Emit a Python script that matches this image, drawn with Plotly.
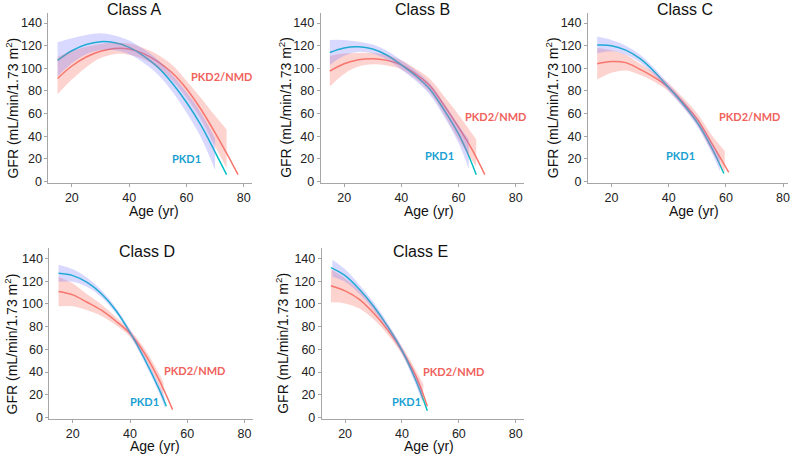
import plotly.graph_objects as go

CLASSES = ["Class A", "Class B", "Class C", "Class D", "Class E"]
SERIES = ["PKD1", "PKD2/NMD"]
Y_TICKS = [0, 20, 40, 60, 80, 100, 120, 140]
X_TICKS = [20, 40, 60, 80]

# ---- Class A ----
A_PKD1_AGE = [15, 20, 25, 30, 35, 40, 45, 50, 55, 60, 65, 70, 74]
A_PKD1_GFR = [107, 115.5, 121, 123.5, 122.5, 118.5, 111, 101, 87, 70, 50, 26, 6]
A_PKD1_BAND_AGE = [15, 20, 25, 30, 35, 40, 45, 50, 55, 60, 65, 70]
A_PKD1_UPPER = [123, 126.5, 129.5, 131, 129, 124.5, 117, 107.5, 94.5, 79, 61, 38]
A_PKD1_LOWER = [93, 104.5, 112.5, 116, 116, 112.5, 105, 94.5, 79.5, 61, 39, 10]
A_PKD2_AGE = [15, 20, 25, 30, 35, 40, 45, 50, 55, 60, 65, 70, 74, 78]
A_PKD2_GFR = [91, 102, 110, 115, 117.5, 117, 113, 106, 96, 82, 64, 43, 25, 6]
A_PKD2_BAND_AGE = [15, 20, 25, 30, 35, 40, 45, 50, 55, 60, 65, 70, 74]
A_PKD2_UPPER = [110, 115, 119, 121.5, 122.5, 122, 118, 112, 103, 89, 74, 58, 46]
A_PKD2_LOWER = [77, 90, 101, 109, 112.5, 112, 108, 100.5, 89.5, 74, 55, 31, 12]

# ---- Class B ----
B_PKD1_AGE = [15, 20, 25, 30, 35, 40, 45, 50, 55, 60, 63, 66.2]
B_PKD1_GFR = [114, 118, 119, 117, 111.5, 103, 93.5, 81.5, 63, 42, 26, 6]
B_PKD1_BAND_AGE = [15, 20, 25, 30, 35, 40, 45, 50, 55, 60, 63.6]
B_PKD1_UPPER = [125, 125, 123.5, 121, 115.5, 107, 98, 86.5, 69, 50, 37]
B_PKD1_LOWER = [103, 111, 114.5, 113, 107.5, 99, 89, 76.5, 57, 34, 11]
B_PKD2_AGE = [15, 20, 25, 30, 35, 40, 45, 50, 55, 60, 65, 69.2]
B_PKD2_GFR = [97.5, 104, 107.5, 108.5, 107, 103, 95, 84.5, 67, 48, 27, 6]
B_PKD2_BAND_AGE = [15, 20, 25, 30, 35, 40, 45, 50, 55, 60, 66.2]
B_PKD2_UPPER = [111, 113, 113.5, 113.5, 111.5, 107, 99.5, 90.5, 75, 59, 37]
B_PKD2_LOWER = [84, 95, 101.5, 103.5, 102.5, 99, 90.5, 78.5, 59, 37, 13]

# ---- Class C ----
C_PKD1_AGE = [15, 20, 25, 30, 35, 40, 45, 50, 55, 59.3]
C_PKD1_GFR = [120.5, 120, 116, 108.5, 97, 83, 68.5, 52, 30, 7]
C_PKD1_BAND_AGE = [15, 20, 25, 30, 35, 40, 45, 50, 55, 57.9]
C_PKD1_UPPER = [128, 125, 120, 112, 100, 86, 71.5, 55.5, 34.5, 21]
C_PKD1_LOWER = [113, 115, 112, 105, 94, 80, 65.5, 48.5, 25.5, 9]
C_PKD2_AGE = [15, 20, 25, 30, 35, 40, 45, 50, 55, 61]
C_PKD2_GFR = [104, 106, 105, 99, 92, 83, 70, 55, 34, 8]
C_PKD2_BAND_AGE = [15, 20, 25, 30, 35, 40, 45, 50, 55, 59.6]
C_PKD2_UPPER = [118, 116, 112, 104, 96, 86.5, 74, 60, 41, 27]
C_PKD2_LOWER = [90, 96, 98, 94, 88, 79.5, 66, 50, 27, 8]

# ---- Class D ----
D_PKD1_AGE = [15, 20, 25, 30, 35, 40, 45, 50, 52.7]
D_PKD1_GFR = [127, 125, 119, 109, 94.5, 75, 52, 26, 10]
D_PKD1_BAND_AGE = [15, 20, 25, 30, 35, 40, 45, 50, 52.3]
D_PKD1_UPPER = [134.5, 130.5, 123, 112, 97, 77.5, 55, 29.5, 17]
D_PKD1_LOWER = [119.5, 119.5, 115, 106, 92, 72.5, 49, 22.5, 8]
D_PKD2_AGE = [15, 20, 25, 30, 35, 40, 45, 50, 54.9]
D_PKD2_GFR = [111, 108, 101.5, 94.5, 85, 74, 57, 34, 7]
D_PKD2_BAND_AGE = [15, 20, 25, 30, 35, 40, 45, 50, 51.7]
D_PKD2_UPPER = [124, 118, 108.5, 99.5, 88.5, 77, 61, 39.5, 31]
D_PKD2_LOWER = [98, 98, 94.5, 89.5, 81.5, 71, 53, 28.5, 18]

# ---- Class E ----
E_PKD1_AGE = [15, 20, 25, 30, 35, 40, 45, 48.9]
E_PKD1_GFR = [132, 125, 113, 98, 80, 59, 32, 6]
E_PKD1_BAND_AGE = [15.5, 20, 25, 30, 35, 40, 45, 47]
E_PKD1_UPPER = [139, 130.5, 117, 101.5, 83, 62, 36, 24]
E_PKD1_LOWER = [124, 119.5, 109, 94.5, 77, 56, 28, 14]
E_PKD2_AGE = [15, 20, 25, 30, 35, 40, 45, 48.9]
E_PKD2_GFR = [116, 111.5, 104, 92, 77, 59, 36, 10]
E_PKD2_BAND_AGE = [15, 20, 25, 30, 35, 40, 45, 47.5]
E_PKD2_UPPER = [130.5, 122.5, 112, 97.5, 81, 62.5, 41, 29]
E_PKD2_LOWER = [101.5, 100.5, 96, 86.5, 73, 55.5, 31, 13]

DATA = [
    (A_PKD1_AGE, A_PKD1_GFR, A_PKD1_BAND_AGE, A_PKD1_UPPER, A_PKD1_LOWER,
     A_PKD2_AGE, A_PKD2_GFR, A_PKD2_BAND_AGE, A_PKD2_UPPER, A_PKD2_LOWER),
    (B_PKD1_AGE, B_PKD1_GFR, B_PKD1_BAND_AGE, B_PKD1_UPPER, B_PKD1_LOWER,
     B_PKD2_AGE, B_PKD2_GFR, B_PKD2_BAND_AGE, B_PKD2_UPPER, B_PKD2_LOWER),
    (C_PKD1_AGE, C_PKD1_GFR, C_PKD1_BAND_AGE, C_PKD1_UPPER, C_PKD1_LOWER,
     C_PKD2_AGE, C_PKD2_GFR, C_PKD2_BAND_AGE, C_PKD2_UPPER, C_PKD2_LOWER),
    (D_PKD1_AGE, D_PKD1_GFR, D_PKD1_BAND_AGE, D_PKD1_UPPER, D_PKD1_LOWER,
     D_PKD2_AGE, D_PKD2_GFR, D_PKD2_BAND_AGE, D_PKD2_UPPER, D_PKD2_LOWER),
    (E_PKD1_AGE, E_PKD1_GFR, E_PKD1_BAND_AGE, E_PKD1_UPPER, E_PKD1_LOWER,
     E_PKD2_AGE, E_PKD2_GFR, E_PKD2_BAND_AGE, E_PKD2_UPPER, E_PKD2_LOWER),
]

# ---- layout (pixels in an 800x462 page) ----
W, H = 800, 462
PANELS = [
    dict(xd=(48.5, 253), yd=(13, 185), xr=(11.8, 83), title=(135, 10), yt=(12, 109), xt=(154, 214),
         l2=(72.2, 92.7), l1=(60, 20)),
    dict(xd=(321.5, 525.6), yd=(13, 185), xr=(11.8, 83), title=(424, 10), yt=(285, 109), xt=(430, 214),
         l2=(72.9, 57.5), l1=(53.3, 23)),
    dict(xd=(589.5, 790.2), yd=(13, 185), xr=(11.8, 81.8), title=(687, 10), yt=(553, 109), xt=(696, 214),
         l2=(68.1, 57.5), l1=(44, 23)),
    dict(xd=(49.5, 253.6), yd=(251.6, 424.2), xr=(11.8, 83), title=(147, 255), yt=(12, 348), xt=(155, 452),
         l2=(62.7, 41), l1=(45.2, 14.2)),
    dict(xd=(322.6, 525.6), yd=(251.6, 424.2), xr=(11.8, 83), title=(421.5, 255), yt=(283, 348), xt=(430, 452),
         l2=(58.2, 40.3), l1=(41.5, 14.2)),
]

PKD1_LINE = "#00BFC4"
PKD2_LINE = "#F8766D"
PKD1_BAND = "rgba(120,120,255,0.28)"
PKD2_BAND = "rgba(248,118,109,0.32)"
PKD1_TEXT = "#1a9fd2"
PKD2_TEXT = "#f0625c"
AXIS_COLOR = "#a6a6a6"
FONT = "Liberation Sans, Arial, sans-serif"

fig = go.Figure()
annotations = []
layout = dict(width=W, height=H, autosize=False, margin=dict(l=0, r=0, t=0, b=0),
              paper_bgcolor="white", plot_bgcolor="white", showlegend=False)

for i, (p, d) in enumerate(zip(PANELS, DATA)):
    n = i + 1
    xa = "x" if n == 1 else f"x{n}"
    ya = "y" if n == 1 else f"y{n}"
    (a1, g1, ba1, u1, l1, a2, g2, ba2, u2, l2) = d
    # lines first (bands drawn over them, as in the source figure)
    fig.add_trace(go.Scatter(x=a2, y=g2, mode="lines", line=dict(color=PKD2_LINE, width=1.5, shape="spline"),
                             xaxis=xa, yaxis=ya, name=SERIES[1]))
    fig.add_trace(go.Scatter(x=a1, y=g1, mode="lines", line=dict(color=PKD1_LINE, width=1.5, shape="spline"),
                             xaxis=xa, yaxis=ya, name=SERIES[0]))
    # PKD2 band
    fig.add_trace(go.Scatter(x=ba2, y=l2, mode="lines", line=dict(width=0, shape="spline"),
                             xaxis=xa, yaxis=ya, hoverinfo="skip"))
    fig.add_trace(go.Scatter(x=ba2, y=u2, mode="lines", line=dict(width=0, shape="spline"),
                             fill="tonexty", fillcolor=PKD2_BAND, xaxis=xa, yaxis=ya, hoverinfo="skip"))
    # PKD1 band
    fig.add_trace(go.Scatter(x=ba1, y=l1, mode="lines", line=dict(width=0, shape="spline"),
                             xaxis=xa, yaxis=ya, hoverinfo="skip"))
    fig.add_trace(go.Scatter(x=ba1, y=u1, mode="lines", line=dict(width=0, shape="spline"),
                             fill="tonexty", fillcolor=PKD1_BAND, xaxis=xa, yaxis=ya, hoverinfo="skip"))

    xkey = "xaxis" if n == 1 else f"xaxis{n}"
    ykey = "yaxis" if n == 1 else f"yaxis{n}"
    layout[xkey] = dict(domain=[p["xd"][0] / W, p["xd"][1] / W], range=list(p["xr"]), anchor=ya,
                        tickvals=X_TICKS, ticks="outside", ticklen=3, tickcolor=AXIS_COLOR,
                        showline=True, linecolor=AXIS_COLOR, linewidth=1, showgrid=False, zeroline=False,
                        tickfont=dict(family=FONT, size=12.5, color="#222"))
    layout[ykey] = dict(domain=[1 - p["yd"][1] / H, 1 - p["yd"][0] / H], range=[-1, 149], anchor=xa,
                        tickvals=Y_TICKS, ticks="outside", ticklen=3, tickcolor=AXIS_COLOR,
                        showline=True, linecolor=AXIS_COLOR, linewidth=1, showgrid=False, zeroline=False,
                        tickfont=dict(family=FONT, size=12.5, color="#222"))

    annotations.append(dict(text=CLASSES[i], x=p["title"][0] / W, y=1 - p["title"][1] / H,
                            xref="paper", yref="paper", showarrow=False, xanchor="center", yanchor="middle",
                            font=dict(family=FONT, size=16, color="#111")))
    annotations.append(dict(text="GFR (mL/min/1.73 m<sup>2</sup>)", x=p["yt"][0] / W, y=1 - p["yt"][1] / H,
                            xref="paper", yref="paper", showarrow=False, textangle=-90,
                            xanchor="center", yanchor="middle", font=dict(family=FONT, size=14, color="#111")))
    annotations.append(dict(text="Age (yr)", x=p["xt"][0] / W, y=1 - p["xt"][1] / H,
                            xref="paper", yref="paper", showarrow=False, xanchor="center", yanchor="middle",
                            font=dict(family=FONT, size=14, color="#111")))
    annotations.append(dict(text="<b>" + SERIES[1] + "</b>", x=p["l2"][0], y=p["l2"][1], xref=xa, yref=ya,
                            showarrow=False, xanchor="center", yanchor="middle",
                            font=dict(family="Lato, Open Sans, sans-serif", size=11, color=PKD2_TEXT)))
    annotations.append(dict(text="<b>" + SERIES[0] + "</b>", x=p["l1"][0], y=p["l1"][1], xref=xa, yref=ya,
                            showarrow=False, xanchor="center", yanchor="middle",
                            font=dict(family="Lato, Open Sans, sans-serif", size=11, color=PKD1_TEXT)))

layout["annotations"] = annotations
fig.update_layout(**layout)
fig.write_html("out.html", config={"displayModeBar": False},
               post_script="document.body.style.margin='0';document.body.style.padding='0';")
